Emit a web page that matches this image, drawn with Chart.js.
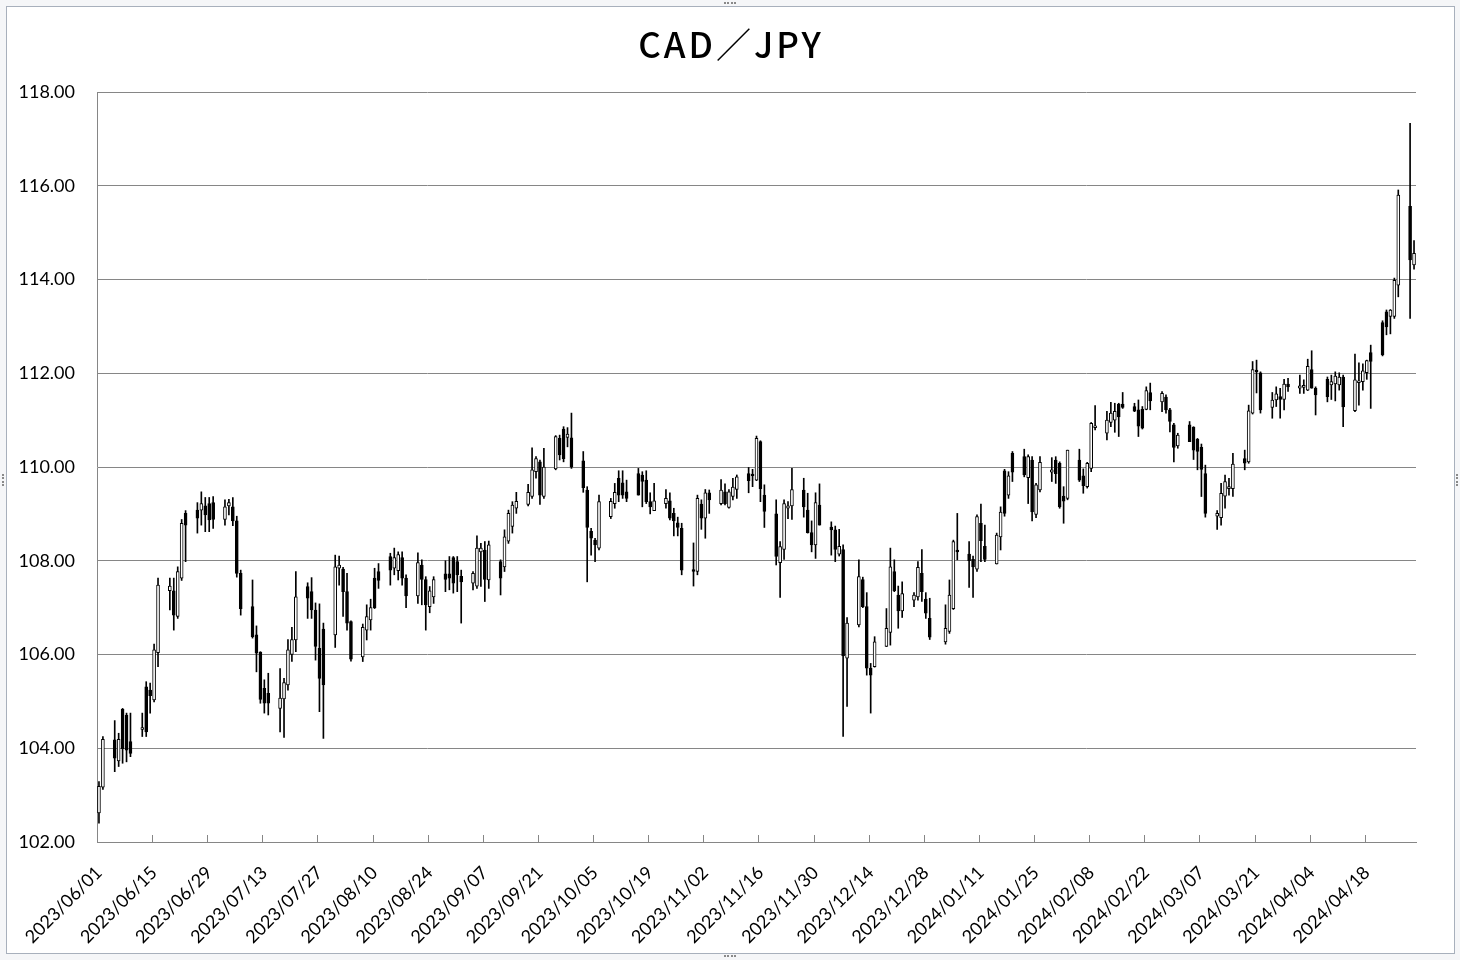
<!DOCTYPE html>
<html lang="ja">
<head>
<meta charset="UTF-8">
<title>CAD／JPY</title>
<script src="https://cdn.jsdelivr.net/npm/chart.js@4.4.9/dist/chart.umd.min.js"></script>
<style>
    body { margin: 0; background: #f5f6f8; }
    #wrap { position: relative; width: 1460px; height: 960px; background: #f5f6f8; overflow: hidden; }
    #frame { position: absolute; left: 6px; top: 6px; width: 1447px; height: 946px; border: 1px solid #a8b0bc; background: #fff; }
    #chart { position: absolute; left: 0; top: 0; }
    .hd { position: absolute; border-color: #8a8a8a; border-style: dotted; border-width: 0; }
</style>
</head>
<body>
<div id="wrap">
    <div id="frame"></div>
    <div class="hd" style="left:724px;top:2px;width:12px;border-top-width:2px"></div>
    <div class="hd" style="left:724px;top:955px;width:12px;border-top-width:2px"></div>
    <div class="hd" style="left:2px;top:474px;height:12px;border-left-width:2px"></div>
    <div class="hd" style="left:1456px;top:474px;height:12px;border-left-width:2px"></div>
    <canvas id="chart" width="1460" height="960"></canvas>
</div>
<script>
    // 取引日 (日足)
    const tradeDates = [
        '2023/06/01','2023/06/02',
        '2023/06/05','2023/06/06','2023/06/07','2023/06/08','2023/06/09',
        '2023/06/12','2023/06/13','2023/06/14','2023/06/15','2023/06/16',
        '2023/06/19','2023/06/20','2023/06/21','2023/06/22','2023/06/23',
        '2023/06/26','2023/06/27','2023/06/28','2023/06/29','2023/06/30',
        '2023/07/03','2023/07/04','2023/07/05','2023/07/06','2023/07/07',
        '2023/07/10','2023/07/11','2023/07/12','2023/07/13','2023/07/14',
        '2023/07/17','2023/07/18','2023/07/19','2023/07/20','2023/07/21',
        '2023/07/24','2023/07/25','2023/07/26','2023/07/27','2023/07/28',
        '2023/07/31','2023/08/01','2023/08/02','2023/08/03','2023/08/04',
        '2023/08/07','2023/08/08','2023/08/09','2023/08/10','2023/08/11',
        '2023/08/14','2023/08/15','2023/08/16','2023/08/17','2023/08/18',
        '2023/08/21','2023/08/22','2023/08/23','2023/08/24','2023/08/25',
        '2023/08/28','2023/08/29','2023/08/30','2023/08/31','2023/09/01',
        '2023/09/04','2023/09/05','2023/09/06','2023/09/07','2023/09/08',
        '2023/09/11','2023/09/12','2023/09/13','2023/09/14','2023/09/15',
        '2023/09/18','2023/09/19','2023/09/20','2023/09/21','2023/09/22',
        '2023/09/25','2023/09/26','2023/09/27','2023/09/28','2023/09/29',
        '2023/10/02','2023/10/03','2023/10/04','2023/10/05','2023/10/06',
        '2023/10/09','2023/10/10','2023/10/11','2023/10/12','2023/10/13',
        '2023/10/16','2023/10/17','2023/10/18','2023/10/19','2023/10/20',
        '2023/10/23','2023/10/24','2023/10/25','2023/10/26','2023/10/27',
        '2023/10/30','2023/10/31','2023/11/01','2023/11/02','2023/11/03',
        '2023/11/06','2023/11/07','2023/11/08','2023/11/09','2023/11/10',
        '2023/11/13','2023/11/14','2023/11/15','2023/11/16','2023/11/17',
        '2023/11/20','2023/11/21','2023/11/22','2023/11/23','2023/11/24',
        '2023/11/27','2023/11/28','2023/11/29','2023/11/30','2023/12/01',
        '2023/12/04','2023/12/05','2023/12/06','2023/12/07','2023/12/08',
        '2023/12/11','2023/12/12','2023/12/13','2023/12/14','2023/12/15',
        '2023/12/18','2023/12/19','2023/12/20','2023/12/21','2023/12/22',
        '2023/12/25','2023/12/26','2023/12/27','2023/12/28','2023/12/29',
        '2024/01/02','2024/01/03','2024/01/04','2024/01/05',
        '2024/01/08','2024/01/09','2024/01/10','2024/01/11','2024/01/12',
        '2024/01/15','2024/01/16','2024/01/17','2024/01/18','2024/01/19',
        '2024/01/22','2024/01/23','2024/01/24','2024/01/25','2024/01/26',
        '2024/01/29','2024/01/30','2024/01/31','2024/02/01','2024/02/02',
        '2024/02/05','2024/02/06','2024/02/07','2024/02/08','2024/02/09',
        '2024/02/12','2024/02/13','2024/02/14','2024/02/15','2024/02/16',
        '2024/02/19','2024/02/20','2024/02/21','2024/02/22','2024/02/23',
        '2024/02/26','2024/02/27','2024/02/28','2024/02/29','2024/03/01',
        '2024/03/04','2024/03/05','2024/03/06','2024/03/07','2024/03/08',
        '2024/03/11','2024/03/12','2024/03/13','2024/03/14','2024/03/15',
        '2024/03/18','2024/03/19','2024/03/20','2024/03/21','2024/03/22',
        '2024/03/25','2024/03/26','2024/03/27','2024/03/28','2024/03/29',
        '2024/04/01','2024/04/02','2024/04/03','2024/04/04','2024/04/05',
        '2024/04/08','2024/04/09','2024/04/10','2024/04/11','2024/04/12',
        '2024/04/15','2024/04/16','2024/04/17','2024/04/18','2024/04/19',
        '2024/04/22','2024/04/23','2024/04/24','2024/04/25','2024/04/26',
        '2024/04/29','2024/04/30'
    ];

    // 始値
    const openV = [
        102.62,103.17,
        104.18,103.73,104.83,104.71,104.14,
        104.40,105.31,105.24,105.03,106.04,
        107.36,107.36,106.81,107.63,109.01,
        109.08,109.08,109.17,109.22,109.24,
        108.88,109.17,109.15,108.85,107.73,
        107.02,106.42,106.05,105.28,105.17,
        104.85,105.05,105.35,106.00,106.31,
        107.45,107.34,106.95,106.13,106.54,
        106.42,107.84,107.82,107.34,106.70,
        105.95,106.52,106.74,107.63,107.77,
        108.09,107.84,107.79,108.07,107.63,
        107.25,107.91,107.60,107.02,107.23,
        107.72,107.72,108.07,107.98,107.67,
        107.52,107.46,108.19,108.23,107.59,
        107.98,107.87,108.42,108.73,109.12,
        109.20,109.37,109.90,110.11,109.37,
        109.96,110.61,110.81,110.63,110.62,
        110.13,109.51,108.63,108.44,108.27,
        108.94,109.22,109.76,109.66,109.47,
        109.86,109.83,109.72,109.26,109.07,
        109.22,109.28,109.01,108.81,108.69,
        107.80,107.77,109.21,108.91,109.45,
        109.22,109.47,109.14,109.37,109.52,
        109.86,109.85,109.72,110.54,109.40,
        109.00,107.96,108.24,109.12,109.17,
        109.51,109.08,108.60,108.34,109.19,
        108.72,108.66,108.14,108.24,105.92,
        106.63,107.60,107.02,105.71,105.74,
        106.17,106.47,107.77,107.27,106.93,
        107.16,107.23,107.73,107.18,106.77,
        106.27,106.49,106.98,108.23,
        108.14,108.03,107.82,108.80,108.31,
        107.93,108.51,109.92,109.40,110.29,
        110.22,109.77,110.15,108.99,109.51,
        109.89,110.15,110.08,109.38,109.33,
        110.15,109.81,109.58,109.97,110.84,
        110.72,110.95,111.00,111.34,111.34,
        111.29,111.22,111.23,111.23,111.59,
        111.39,111.49,111.22,110.90,110.45,
        110.90,110.85,110.59,110.42,109.86,
        108.95,108.92,109.38,109.54,109.54,
        110.18,110.11,111.15,112.07,112.01,
        111.27,111.43,111.50,111.44,111.77,
        111.68,111.70,111.64,112.08,111.68,
        111.87,111.75,111.77,111.75,111.92,
        111.20,111.80,111.82,112.01,112.44,
        113.08,113.31,113.21,113.21,113.88,
        115.56,114.31
    ];

    // 高値
    const highV = [
        103.29,104.25,
        104.59,104.32,104.85,104.75,104.75,
        104.75,105.42,105.39,106.22,107.63,
        107.63,107.63,107.87,108.88,109.07,
        109.24,109.47,109.35,109.35,109.37,
        109.30,109.31,109.35,108.95,107.80,
        107.59,106.61,106.06,105.46,105.60,
        105.70,105.49,106.32,106.58,107.77,
        107.53,107.64,107.10,107.08,106.67,
        108.12,108.10,107.86,107.73,106.72,
        106.65,107.06,107.18,107.84,107.94,
        108.16,108.27,108.19,108.19,107.70,
        108.17,108.02,107.66,107.45,107.66,
        108.00,108.09,108.09,108.09,107.80,
        107.77,108.53,108.37,108.41,108.42,
        108.02,108.66,109.08,109.26,109.46,
        109.63,110.41,110.22,110.15,110.40,
        110.67,110.68,110.86,110.84,111.15,
        110.33,109.58,108.69,108.48,109.40,
        109.33,109.65,109.92,109.92,109.72,
        109.97,109.90,109.92,109.45,109.65,
        109.52,109.45,109.12,108.93,108.80,
        108.38,109.40,109.30,109.52,109.51,
        109.73,109.64,109.52,109.76,109.83,
        109.99,109.95,110.66,110.56,109.62,
        109.30,108.41,109.30,109.26,109.97,
        109.76,109.44,108.85,109.45,109.64,
        108.83,108.74,108.67,108.34,106.79,
        108.02,107.65,107.32,105.81,106.38,
        106.98,108.27,108.02,107.46,107.55,
        107.32,107.98,108.24,107.32,107.20,
        107.06,107.59,108.44,109.01,
        108.41,108.10,108.98,109.21,108.76,
        108.59,109.15,109.95,109.90,110.33,
        110.38,110.26,110.22,109.65,110.22,
        110.20,110.22,110.11,109.58,110.36,
        110.38,109.96,110.10,110.95,111.31,
        111.19,111.38,111.36,111.36,111.59,
        111.36,111.43,111.29,111.71,111.79,
        111.61,111.54,111.25,110.93,110.72,
        110.97,110.86,110.61,110.49,110.04,
        109.07,109.65,109.83,109.76,110.29,
        110.36,111.32,112.25,112.28,112.03,
        111.59,111.71,111.68,111.87,111.89,
        111.96,111.86,112.30,112.48,111.71,
        111.92,111.96,112.03,112.01,111.96,
        112.41,112.22,112.20,112.28,112.60,
        113.12,113.35,113.36,114.03,115.91,
        117.33,114.83
    ];

    // 安値
    const lowV = [
        102.40,103.12,
        103.50,103.61,103.68,103.71,103.82,
        104.25,104.25,104.75,104.99,105.74,
        106.95,106.52,106.77,107.58,107.98,
        108.59,108.76,108.62,108.62,108.69,
        108.76,108.98,108.75,107.65,106.84,
        106.35,105.63,104.96,104.75,104.71,
        104.35,104.23,105.24,105.85,106.06,
        106.77,106.77,105.88,104.78,104.21,
        106.15,107.48,106.81,106.52,105.86,
        105.85,106.31,106.52,106.98,107.41,
        107.48,107.70,107.59,107.48,107.00,
        107.09,107.06,106.52,106.89,107.09,
        107.34,107.38,107.31,107.34,106.67,
        107.38,107.41,107.45,107.13,107.41,
        107.27,107.77,108.37,108.59,109.01,
        109.17,109.33,109.76,109.20,109.33,
        109.94,110.15,110.11,110.43,109.97,
        109.46,107.55,108.12,107.98,108.23,
        108.90,109.12,109.26,109.33,109.26,
        109.40,109.15,109.22,109.00,109.07,
        109.12,108.87,108.53,108.53,107.70,
        107.46,107.70,108.67,108.48,109.01,
        109.19,109.19,109.12,109.30,109.33,
        109.45,109.58,109.71,109.26,108.71,
        107.91,107.22,108.03,108.90,108.88,
        108.93,108.59,108.19,108.05,108.76,
        108.12,107.98,108.10,104.25,104.89,
        106.59,107.00,105.56,104.75,105.73,
        106.17,106.20,107.34,106.56,106.79,
        107.02,107.16,107.13,106.77,106.32,
        106.22,106.45,106.96,108.02,
        107.43,107.22,107.77,107.98,107.98,
        107.93,108.23,108.95,109.33,109.69,
        109.79,109.22,108.85,108.92,109.47,
        109.69,109.65,109.12,108.80,109.30,
        109.69,109.44,109.55,109.90,110.79,
        110.58,110.86,110.74,110.65,111.25,
        111.18,110.65,110.81,111.22,111.22,
        111.18,111.15,110.75,110.11,110.40,
        110.54,110.16,109.94,109.37,108.93,
        108.67,108.76,109.12,109.40,109.37,
        109.94,110.08,111.13,111.58,111.15,
        111.04,111.29,111.04,111.22,111.61,
        111.57,111.57,111.63,111.68,111.11,
        111.39,111.44,111.41,111.64,110.86,
        111.18,111.32,111.64,111.87,111.25,
        112.37,112.82,112.84,113.17,113.63,
        113.17,114.22
    ];

    // 終値
    const closeV = [
        103.19,104.19,
        103.79,104.19,103.99,103.96,103.89,
        104.44,104.35,105.12,106.10,107.48,
        107.46,106.84,107.77,108.80,108.76,
        108.91,109.22,108.98,108.87,108.88,
        109.15,109.24,108.85,107.73,106.98,
        106.38,106.03,105.04,104.96,104.96,
        105.07,105.40,106.10,106.32,107.23,
        107.20,106.95,106.17,105.49,105.35,
        107.87,107.91,107.34,106.67,105.90,
        106.58,106.81,107.00,107.00,107.58,
        107.80,108.07,108.13,107.63,107.25,
        107.96,107.60,107.06,107.36,107.60,
        107.60,107.63,107.52,107.70,107.55,
        107.73,108.27,108.27,107.60,108.34,
        107.63,108.51,109.01,109.19,109.27,
        109.46,109.94,110.18,109.40,110.00,
        110.65,110.26,110.18,110.70,110.00,
        109.56,108.71,108.48,108.34,109.26,
        109.27,109.46,109.40,109.40,109.33,
        109.40,109.69,109.26,109.15,109.28,
        109.33,108.91,108.85,108.71,107.80,
        107.77,109.33,108.91,109.45,109.30,
        109.51,109.22,109.47,109.57,109.79,
        109.71,109.81,110.61,109.54,109.05,
        108.09,108.30,109.22,109.17,109.52,
        109.15,108.60,108.34,109.24,108.76,
        108.66,108.24,108.31,105.97,106.67,
        107.66,107.02,105.71,105.56,106.27,
        106.56,107.87,107.36,106.93,107.30,
        107.27,107.86,107.34,106.88,106.37,
        106.56,107.27,108.41,108.19,
        108.00,107.87,108.94,108.43,108.03,
        108.55,109.04,109.01,109.81,109.89,
        109.83,110.22,109.04,109.62,110.10,
        109.94,109.86,109.15,109.27,110.36,
        109.72,109.60,110.08,110.93,110.88,
        111.00,111.15,111.19,111.07,111.27,
        111.19,110.87,110.83,111.63,111.41,
        111.57,111.22,110.97,110.42,110.68,
        110.54,110.36,110.33,109.95,109.01,
        109.01,109.44,109.69,109.58,110.06,
        110.08,111.20,112.08,112.03,111.22,
        111.43,111.56,111.44,111.77,111.71,
        111.73,111.73,112.15,111.68,111.54,
        111.50,111.82,111.94,111.92,111.28,
        111.86,111.84,112.05,112.27,112.25,
        112.39,112.99,113.35,113.98,115.80,
        114.42,114.56
    ];

    // 目盛りラベル (14日おき)
    const tickLabels = [
        '2023/06/01','2023/06/15','2023/06/29','2023/07/13','2023/07/27','2023/08/10',
        '2023/08/24','2023/09/07','2023/09/21','2023/10/05','2023/10/19','2023/11/02',
        '2023/11/16','2023/11/30','2023/12/14','2023/12/28','2024/01/11','2024/01/25',
        '2024/02/08','2024/02/22','2024/03/07','2024/03/21','2024/04/04','2024/04/18'
    ];

    const yTicks = [102, 104, 106, 108, 110, 112, 114, 116, 118];

    function fmtDate(d) {
        return d.getFullYear() + '/' + String(d.getMonth() + 1).padStart(2, '0') + '/' + String(d.getDate()).padStart(2, '0');
    }

    // 日付軸 (土日も含めたカレンダー)
    const calLabels = [];
    const dStart = new Date(2023, 5, 1);
    const dEnd = new Date(2024, 3, 30);
    for (let d = new Date(dStart); d <= dEnd; d.setDate(d.getDate() + 1)) {
        calLabels.push(fmtDate(d));
    }

    const bodyData = [];
    const wickData = [];
    const bodyColor = [];
    for (let i = 0; i < calLabels.length; i++) {
        const k = tradeDates.indexOf(calLabels[i]);
        if (k < 0) {
            bodyData.push(null);
            wickData.push(null);
            bodyColor.push('#ffffff');
            continue;
        }
        const o = openV[k], c = closeV[k];
        let lo = Math.min(o, c), hi = Math.max(o, c);
        if (hi - lo < 0.04) hi = lo + 0.04;
        bodyData.push([lo, hi]);
        wickData.push([Math.min(lowV[k], lo), Math.max(highV[k], hi)]);
        bodyColor.push(c >= o ? '#ffffff' : '#000000');
    }

    // エクセル風の内向き目盛り
    const innerTicks = {
        id: 'innerTicks',
        afterDraw(chart) {
            const ctx = chart.ctx;
            const xs = chart.scales.x;
            const ca = chart.chartArea;
            const w = (ca.right - ca.left) / calLabels.length;
            ctx.save();
            ctx.strokeStyle = '#868686';
            ctx.lineWidth = 1;
            ctx.beginPath();
            tickLabels.forEach(function (lbl) {
                const i = calLabels.indexOf(lbl);
                const px = Math.round(xs.getPixelForValue(i) - w / 2) + 0.5;
                ctx.moveTo(px, ca.bottom - 7);
                ctx.lineTo(px, ca.bottom);
            });
            ctx.stroke();
            ctx.restore();
        }
    };

    const titlePlugin = {
        id: 'titleText',
        afterDraw(chart) {
            const ctx = chart.ctx;
            ctx.save();
            ctx.font = '500 35px "Noto Sans CJK JP"';
            ctx.fillStyle = '#000';
            ctx.textAlign = 'center';
            ctx.textBaseline = 'alphabetic';
            ctx.letterSpacing = '3px';
            ctx.fillText('CAD／JPY', 731, 58);
            ctx.restore();
        }
    };

    const config = {
        type: 'bar',
        data: {
            labels: calLabels,
            datasets: [{
                label: 'body',
                data: bodyData,
                backgroundColor: bodyColor,
                borderColor: '#000000',
                borderWidth: 1,
                borderSkipped: false,
                barThickness: 3,
                grouped: false
            }, {
                label: 'wick',
                data: wickData,
                backgroundColor: '#000000',
                borderWidth: 0,
                barThickness: 1,
                grouped: false
            }]
        },
        options: {
            responsive: false,
            animation: false,
            devicePixelRatio: 1,
            layout: { padding: { left: 0, right: 44, top: 92, bottom: 0 } },
            plugins: {
                legend: { display: false },
                tooltip: { enabled: false },
                title: { display: false }
            },
            scales: {
                x: {
                    type: 'category',
                    offset: true,
                    grid: { display: false, drawTicks: false },
                    border: { display: true, color: '#868686', width: 1 },
                    ticks: {
                        autoSkip: false,
                        minRotation: 45,
                        maxRotation: 45,
                        padding: 20,
                        color: '#000',
                        font: { family: 'Lato', size: 18 },
                        callback: function (v) {
                            const l = this.getLabelForValue(v);
                            return tickLabels.includes(l) ? l : '';
                        }
                    },
                    afterFit: function (s) { s.height = 118; }
                },
                y: {
                    min: 102,
                    max: 118,
                    afterBuildTicks: function (s) { s.ticks = yTicks.map(v => ({ value: v })); },
                    ticks: {
                        padding: 22,
                        color: '#000',
                        font: { family: 'Lato', size: 18 },
                        callback: v => v.toFixed(2)
                    },
                    grid: { color: '#868686', drawTicks: false },
                    border: { display: true, color: '#868686' },
                    afterFit: function (s) { s.width = 97; }
                }
            }
        },
        plugins: [innerTicks, titlePlugin]
    };

    new Chart(document.getElementById('chart'), config);
</script>
</body>
</html>
